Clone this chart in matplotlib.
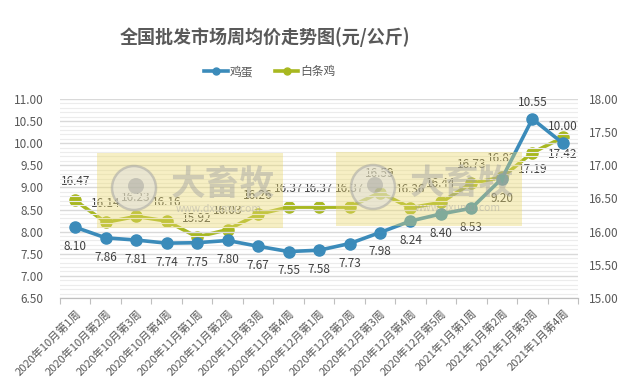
import matplotlib
matplotlib.use("Agg")
import matplotlib.pyplot as plt
from matplotlib.patches import Rectangle, Circle
from matplotlib.ticker import MultipleLocator, FixedLocator

plt.rcParams['font.family'] = ['Noto Sans CJK SC', 'DejaVu Sans']

categories = ["2020年10月第1周", "2020年10月第2周", "2020年10月第3周", "2020年10月第4周",
              "2020年11月第1周", "2020年11月第2周", "2020年11月第3周", "2020年11月第4周",
              "2020年12月第1周", "2020年12月第2周", "2020年12月第3周", "2020年12月第4周",
              "2020年12月第5周", "2021年1月第1周", "2021年1月第2周", "2021年1月第3周",
              "2021年1月第4周"]
egg = [8.10, 7.86, 7.81, 7.74, 7.75, 7.80, 7.67, 7.55, 7.58, 7.73, 7.98, 8.24,
       8.40, 8.53, 9.20, 10.55, 10.00]
chicken = [16.47, 16.14, 16.23, 16.16, 15.92, 16.03, 16.26, 16.37, 16.37, 16.37,
           16.59, 16.36, 16.44, 16.73, 16.82, 17.19, 17.42]
egg_label_above = [False] * 15 + [True, True]
chicken_label_above = [True] * 15 + [False, False]

egg_color = '#3b8bba'
chk_color = '#a8b820'
txt_color = '#404040'
tick_color = '#595959'

fig = plt.figure(figsize=(6.28, 3.89), dpi=100)
ax = fig.add_axes([0.0955, 0.234, 0.825, 0.5115])
ax2 = ax.twinx()

x = list(range(len(categories)))

ax.set_ylim(6.5, 11.0)
ax.yaxis.set_major_locator(MultipleLocator(0.5))
ax.yaxis.set_minor_locator(MultipleLocator(0.1))
ax.grid(which='major', axis='y', color='#d9d9d9', lw=1.0, zorder=0)
ax.grid(which='minor', axis='y', color='#ececec', lw=0.8, zorder=0)
ax2.set_ylim(15.0, 18.0)
ax2.yaxis.set_major_locator(MultipleLocator(0.5))

ax.set_xlim(-0.5, len(categories) - 0.5)
ax.set_xticks(x)
ax.set_xticklabels(categories, rotation=45, ha='right', rotation_mode='anchor',
                   fontsize=8, color=tick_color)
ax.xaxis.set_minor_locator(FixedLocator([i - 0.5 for i in range(len(categories) + 1)]))
ax.tick_params(axis='x', which='major', length=0, pad=7)
ax.tick_params(axis='x', which='minor', length=4, color='#bfbfbf', width=0.8)

ax.yaxis.set_major_formatter(matplotlib.ticker.FormatStrFormatter('%.2f'))
ax2.yaxis.set_major_formatter(matplotlib.ticker.FormatStrFormatter('%.2f'))
ax.tick_params(axis='y', which='both', length=0, labelsize=8.5, labelcolor=tick_color, pad=12)
ax2.tick_params(axis='y', which='both', length=0, labelsize=8.5, labelcolor=tick_color, pad=8)

for a in (ax, ax2):
    for s in ('top', 'left', 'right'):
        a.spines[s].set_visible(False)
    a.spines['bottom'].set_color('#bfbfbf')
    a.spines['bottom'].set_linewidth(0.8)

l1, = ax.plot(x, egg, color=egg_color, lw=2.6, marker='o', ms=8, zorder=3, label='鸡蛋')
l2, = ax2.plot(x, chicken, color=chk_color, lw=2.6, marker='o', ms=8, zorder=3, label='白条鸡')
ax.set_zorder(ax2.get_zorder() + 1)
ax.patch.set_visible(False)

for i, v in enumerate(egg):
    off = 12 if egg_label_above[i] else -14
    ax.annotate(f"{v:.2f}", (i, v), xytext=(0, off), textcoords='offset points',
                ha='center', va='center', fontsize=8.5, color=txt_color, zorder=5)
for i, v in enumerate(chicken):
    off = 13.5 if chicken_label_above[i] else -12
    ax2.annotate(f"{v:.2f}", (i, v), xytext=(0, off), textcoords='offset points',
                 ha='center', va='center', fontsize=8.5, color=txt_color, zorder=5)

fig.text(265 / 628, 0.905, "全国批发市场周均价走势图(元/公斤)", ha='center', va='center',
         fontsize=13, fontweight='bold', color=tick_color)

leg = fig.legend(handles=[l1, l2], loc='center', bbox_to_anchor=(270 / 628, 0.815), ncol=2,
                 frameon=False, fontsize=8.5, handlelength=2.0, columnspacing=1.8,
                 handletextpad=0.2)
for t in leg.get_texts():
    t.set_color(tick_color)
for h in leg.legend_handles:
    h.set_markersize(5)

# watermark overlays
W, H = 628.0, 389.0
for (x0, x1, y0, y1) in [(97, 283, 153, 228), (336, 522, 152, 226)]:
    fig.patches.append(Rectangle((x0 / W, 1 - y1 / H), (x1 - x0) / W, (y1 - y0) / H,
                                 transform=fig.transFigure, facecolor=(235/255, 217/255, 108/255),
                                 alpha=0.4, edgecolor='none', zorder=10))
    cx, cy = x0 + 37, y0 + 35
    fig.patches.append(Circle((cx / 100, (H - cy) / 100), 0.22, transform=fig.dpi_scale_trans,
                              facecolor='#dedede', edgecolor='#a0a0a0', lw=1.8, alpha=0.5, zorder=11))
    fig.patches.append(Circle(((cx + 2) / 100, (H - cy + 2) / 100), 0.08, transform=fig.dpi_scale_trans,
                              facecolor='#909090', edgecolor='none', alpha=0.4, zorder=11))
    fig.text((x0 + 126) / W, 1 - (y0 + 31) / H, "大畜牧", ha='center', va='center', fontsize=25,
             fontweight='bold', color='#a0a0a0', alpha=0.45, zorder=12)
    fig.text((x0 + 122) / W, 1 - (y0 + 56) / H, "www.dxumu.com", ha='center', va='center',
             fontsize=7.5, color='#a0a0a0', alpha=0.45, zorder=12)

fig.savefig("out.png", dpi=100, facecolor='white')
